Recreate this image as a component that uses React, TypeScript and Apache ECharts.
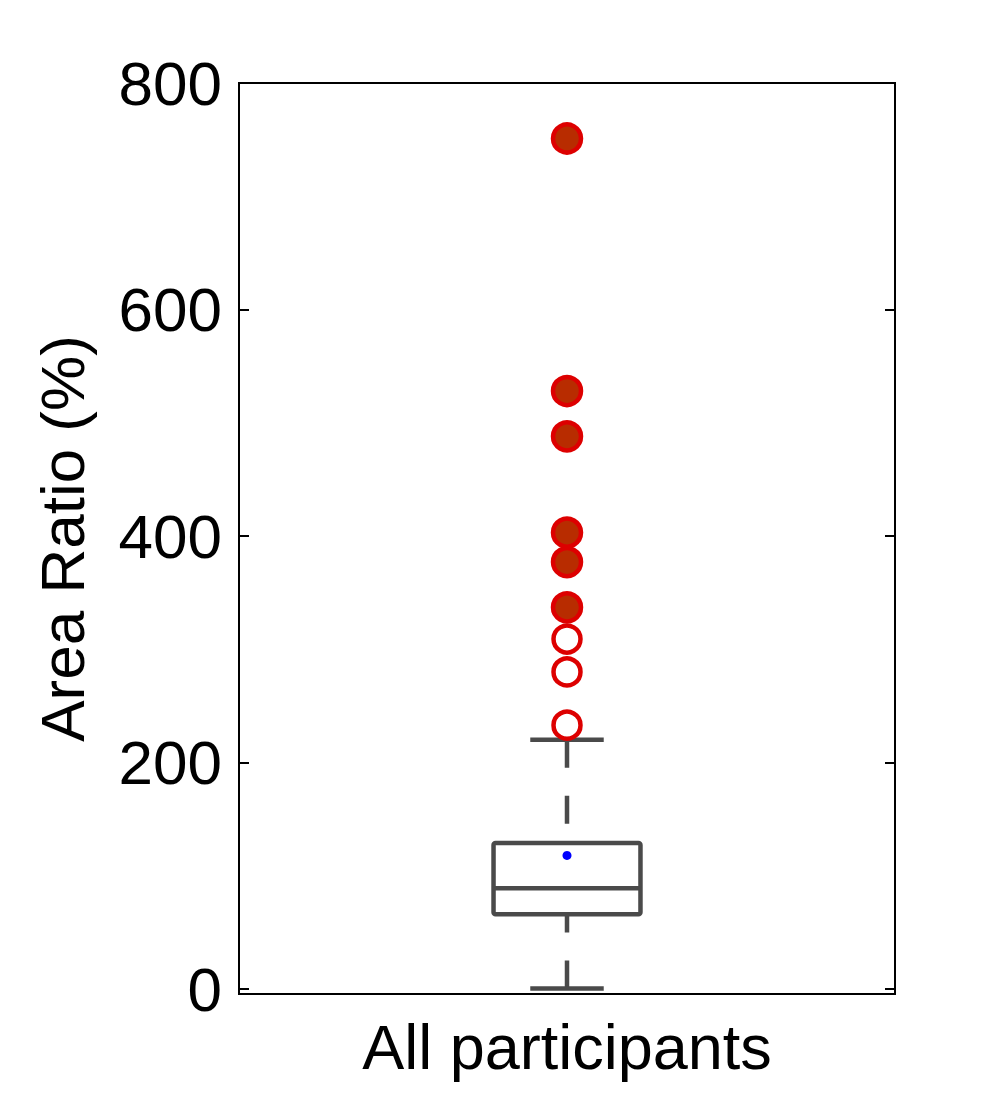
import React, { useEffect, useRef } from "react";
import * as echarts from "echarts";

const categories = ["All participants"];
// [categoryIndex, lowerWhisker, q1, median, q3, upperWhisker]
const boxStats = [[0, 0.5, 66, 89, 129, 220]];
const meanValues = [118];
const outliersFilled = [751, 528, 488, 403, 377, 337];
const outliersOpen = [309, 280, 233];
const yTicks = [0, 200, 400, 600, 800];

const FONT = "Liberation Sans";
const BOX_COLOR = "#4a4a4a";

export default function App() {
  const ref = useRef<HTMLDivElement>(null);
  useEffect(() => {
    document.body.style.margin = "0";
    if (!ref.current) return;
    const chart = echarts.init(ref.current, undefined, { renderer: "svg" });
    const yBase = {
      type: "value",
      min: -4.4,
      max: 800,
      splitLine: { show: false },
      axisLine: { show: true, onZero: false, lineStyle: { color: "#000", width: 2 } },
      axisTick: {
        show: true,
        inside: true,
        length: 10,
        customValues: yTicks,
        lineStyle: { color: "#000", width: 2 },
      },
    };
    chart.setOption({
      animation: false,
      backgroundColor: "#fff",
      grid: {
        left: 239,
        right: 94,
        top: 83,
        bottom: 124,
        show: true,
        borderColor: "#000",
        borderWidth: 2,
        backgroundColor: "transparent",
      },
      xAxis: {
        type: "category",
        data: categories,
        boundaryGap: true,
        axisTick: { show: false },
        axisLine: { show: true, onZero: false, lineStyle: { color: "#000", width: 2 } },
        axisLabel: {
          color: "#000",
          fontSize: 63,
          fontFamily: FONT,
          margin: 21,
        },
      },
      yAxis: [
        {
          ...yBase,
          position: "left",
          name: "Area Ratio (%)",
          nameLocation: "middle",
          nameGap: 146,
          nameTextStyle: { color: "#000", fontSize: 62, fontFamily: FONT },
          axisLabel: {
            color: "#000",
            fontSize: 62,
            fontFamily: FONT,
            margin: 17,
            customValues: yTicks,
            padding: [20, 0, 0, 0],
          },
        },
        {
          ...yBase,
          position: "right",
          axisLabel: { show: false },
        },
      ],
      series: [
        {
          type: "custom",
          data: boxStats,
          encode: { x: 0, y: [1, 2, 3, 4, 5] },
          z: 2,
          renderItem: (params: any, api: any) => {
            const xi = api.value(0);
            const pLow = api.coord([xi, api.value(1)]);
            const pQ1 = api.coord([xi, api.value(2)]);
            const pMed = api.coord([xi, api.value(3)]);
            const pQ3 = api.coord([xi, api.value(4)]);
            const pHigh = api.coord([xi, api.value(5)]);
            const band = api.size([1, 0])[0];
            const boxW = band * 0.224;
            const capW = boxW / 2;
            const cx = pMed[0];
            const solid = { stroke: BOX_COLOR, lineWidth: 4.5, fill: "none" };
            const dashed = { stroke: BOX_COLOR, lineWidth: 4.5, lineDash: [28, 28] };
            return {
              type: "group",
              children: [
                {
                  type: "line",
                  shape: { x1: cx, y1: pHigh[1], x2: cx, y2: pQ3[1] },
                  style: dashed,
                },
                {
                  type: "line",
                  shape: { x1: cx, y1: pLow[1], x2: cx, y2: pQ1[1] },
                  style: dashed,
                },
                {
                  type: "line",
                  shape: { x1: cx - capW / 2, y1: pHigh[1], x2: cx + capW / 2, y2: pHigh[1] },
                  style: solid,
                },
                {
                  type: "line",
                  shape: { x1: cx - capW / 2, y1: pLow[1], x2: cx + capW / 2, y2: pLow[1] },
                  style: solid,
                },
                {
                  type: "rect",
                  shape: {
                    x: cx - boxW / 2,
                    y: pQ3[1],
                    width: boxW,
                    height: pQ1[1] - pQ3[1],
                    r: 2,
                  },
                  style: solid,
                },
                {
                  type: "line",
                  shape: { x1: cx - boxW / 2, y1: pMed[1], x2: cx + boxW / 2, y2: pMed[1] },
                  style: solid,
                },
              ],
            };
          },
        },
        {
          type: "scatter",
          data: meanValues.map((v) => [0, v]),
          symbol: "circle",
          symbolSize: 9,
          itemStyle: { color: "#0000ff", opacity: 1 },
          z: 3,
        },
        {
          type: "scatter",
          data: outliersOpen.map((v) => [0, v]),
          symbol: "circle",
          symbolSize: 27,
          itemStyle: { color: "#ffffff", borderColor: "#dd0000", borderWidth: 4.5, opacity: 1 },
          z: 4,
        },
        {
          type: "scatter",
          data: outliersFilled.map((v) => [0, v]),
          symbol: "circle",
          symbolSize: 28,
          itemStyle: { color: "#b82c00", borderColor: "#dd0000", borderWidth: 4.5, opacity: 1 },
          z: 4,
        },
      ],
    });
    return () => chart.dispose();
  }, []);
  return <div ref={ref} style={{ width: 989, height: 1118 }} />;
}
